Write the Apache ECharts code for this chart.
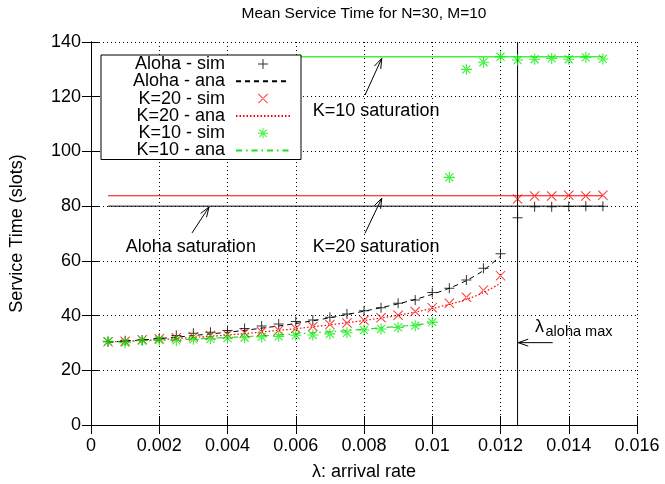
<!DOCTYPE html>
<html>
<head>
<meta charset="utf-8">
<script src="https://cdn.jsdelivr.net/npm/echarts@6/dist/echarts.min.js"></script>
<style>
  html, body { margin: 0; padding: 0; background: #fff; }
  #chart { width: 665px; height: 484px; }
</style>
</head>
<body>
<div id="chart"></div>
<script>
// arrival rates of the simulation runs
const simX = [0.0005, 0.001, 0.0015, 0.002, 0.0025, 0.003, 0.0035, 0.004, 0.0045, 0.005,
  0.0055, 0.006, 0.0065, 0.007, 0.0075, 0.008, 0.0085, 0.009, 0.0095, 0.01,
  0.0105, 0.011, 0.0115, 0.012, 0.0125, 0.013, 0.0135, 0.014, 0.0145, 0.015];
const alohaSim = [30.4, 30.8, 31.1, 31.7, 32.7, 33.5, 33.9, 34.5, 35.3, 36.2,
  36.9, 37.8, 38.4, 39.4, 40.6, 41.8, 42.9, 44.5, 45.7, 48.4,
  50.0, 53.0, 57.3, 62.6, 75.8, 79.8, 79.8, 79.9, 80.0, 80.0];
const k20Sim = [30.4, 30.6, 31.2, 31.5, 31.9, 32.3, 32.7, 33.1, 33.7, 34.1,
  34.6, 35.3, 36.0, 36.7, 37.3, 38.3, 39.2, 40.1, 41.5, 42.9,
  44.5, 46.7, 49.3, 54.6, 82.6, 83.7, 83.7, 84.0, 83.7, 84.0];
const k10Sim = [30.6, 30.1, 30.9, 31.1, 30.9, 31.3, 31.5, 31.8, 31.9, 32.2,
  32.4, 32.8, 32.9, 33.3, 33.7, 34.7, 35.1, 35.7, 36.3, 37.6,
  90.5, 130.0, 132.6, 134.6, 133.4, 133.7, 134.0, 133.7, 134.4, 133.8];

// analytical curves
const anaX = [0.0005, 0.001, 0.0015, 0.002, 0.0025, 0.003, 0.0035, 0.004, 0.0045, 0.005,
  0.0055, 0.006, 0.0065, 0.007, 0.0075, 0.008, 0.0085, 0.009, 0.0095, 0.01,
  0.0105, 0.011, 0.0115, 0.012];
const alohaAna = [30.3, 30.7, 31.1, 31.6, 32.1, 32.7, 33.3, 33.9, 34.6, 35.4,
  36.2, 37.1, 38.1, 39.2, 40.4, 41.6, 42.9, 44.3, 45.9, 47.8,
  50.0, 52.8, 56.5, 61.8];
const k20Ana = [30.3, 30.6, 30.9, 31.2, 31.6, 32.0, 32.4, 32.9, 33.4, 34.0,
  34.6, 35.2, 35.9, 36.6, 37.4, 38.2, 39.1, 40.1, 41.3, 42.6,
  44.1, 45.9, 48.4, 51.8];
const k10AnaX = [0.0005, 0.001, 0.0015, 0.002, 0.0025, 0.003, 0.0035, 0.004, 0.0045, 0.005,
  0.0055, 0.006, 0.0065, 0.007, 0.0075, 0.008, 0.0085, 0.009, 0.0095, 0.01];
const k10Ana = [30.2, 30.5, 30.7, 30.9, 31.2, 31.4, 31.7, 32.0, 32.3, 32.6,
  32.9, 33.3, 33.7, 34.1, 34.5, 35.0, 35.5, 36.0, 36.6, 37.3];

// saturation levels and aloha max rate
const satX = [0.0005, 0.015];
const alohaSat = 80;
const k20Sat = 83.8;
const k10Sat = 134.6;
const lambdaMax = 0.0125;

// annotations (data coordinates)
const notes = [
  { text: 'K=10 saturation', x: 0.0065, y: 114.8 },
  { text: 'Aloha saturation', x: 0.00102, y: 65.1 },
  { text: 'K=20 saturation', x: 0.0065, y: 64.9 }
];
const arrows = [
  [[0.00803, 120.6], [0.00852, 134.0]],
  [[0.00803, 70.1], [0.00852, 82.9]],
  [[0.00296, 70.2], [0.00346, 79.7]],
  [[0.01353, 30.1], [0.01252, 30.1]]
];

const FONT = 'Liberation Sans';
const PLUS = 'path://M0,4.5H10V5.5H0Z M4.5,0H5.5V10H4.5Z';
const CROSS = 'path://M0,0.7L0.7,0L10,9.3L9.3,10Z M10,0.7L9.3,0L0,9.3L0.7,10Z';
const STAR = 'path://M0,4.5H10V5.5H0Z M4.5,0H5.5V10H4.5Z M1,1.7L1.7,1L9,8.3L8.3,9Z M9,1.7L8.3,1L1,8.3L1.7,9Z';

const zip = (xs, ys) => xs.map((x, i) => [x, ys[i]]);
const flat = v => satX.map(x => [x, v]);

const chart = echarts.init(document.getElementById('chart'));

const axisCommon = {
  axisLine: { show: true, lineStyle: { color: '#000', width: 1 } },
  axisTick: { show: true, inside: true, length: 9, lineStyle: { color: '#000' } },
  axisLabel: { color: '#000', fontSize: 18, fontFamily: FONT },
  nameTextStyle: { color: '#000', fontSize: 18, fontFamily: FONT }
};

const option = {
  animation: false,
  backgroundColor: '#fff',
  title: {
    text: 'Mean Service Time for N=30, M=10',
    left: 364,
    textAlign: 'center',
    top: 6,
    padding: 0,
    textStyle: { fontSize: 15.5, fontWeight: 'normal', color: '#000', fontFamily: FONT }
  },
  grid: { left: 91, top: 42, right: 28, bottom: 59, outerBoundsMode: 'none' },
  legend: {
    orient: 'vertical',
    left: 101,
    top: 55,
    align: 'right',
    padding: [0, 10, 0, 0],
    itemGap: -0.7,
    itemWidth: 54,
    itemHeight: 10,
    backgroundColor: '#fff',
    borderColor: '#000',
    borderWidth: 1,
    borderRadius: 0,
    selectedMode: false,
    textStyle: {
      fontSize: 18, fontFamily: FONT, color: '#000',
      width: 124, align: 'right', lineHeight: 17.5, padding: [0, 6, 0, 0]
    },
    data: [
      'Aloha - sim',
      { name: 'Aloha - ana', itemStyle: { opacity: 0 } },
      'K=20 - sim',
      { name: 'K=20 - ana', itemStyle: { opacity: 0 } },
      'K=10 - sim',
      { name: 'K=10 - ana', itemStyle: { opacity: 0 } }
    ]
  },
  xAxis: [
    Object.assign({}, axisCommon, {
      type: 'value', min: 0, max: 0.016, interval: 0.002,
      name: 'λ: arrival rate', nameLocation: 'middle', nameGap: 38,
      axisLabel: Object.assign({}, axisCommon.axisLabel, {
        margin: 12,
        formatter: v => String(+v.toFixed(4))
      }),
      splitLine: { show: true, lineStyle: { color: '#000', type: [1, 3], width: 1 } }
    }),
    Object.assign({}, axisCommon, {
      type: 'value', min: 0, max: 0.016, interval: 0.002, position: 'top',
      axisLabel: { show: false }, splitLine: { show: false }
    })
  ],
  yAxis: [
    Object.assign({}, axisCommon, {
      type: 'value', min: 0, max: 140, interval: 20,
      name: 'Service Time (slots)', nameLocation: 'middle', nameGap: 65,
      axisLabel: Object.assign({}, axisCommon.axisLabel, { margin: 10 }),
      splitLine: { show: true, lineStyle: { color: '#000', type: [1, 3], width: 1 } }
    }),
    Object.assign({}, axisCommon, {
      type: 'value', min: 0, max: 140, interval: 20, position: 'right',
      axisLabel: { show: false }, splitLine: { show: false }
    })
  ],
  series: [
    {
      name: 'aloha-sat', type: 'line', data: flat(alohaSat), symbol: 'none',
      lineStyle: { color: '#000', width: 1 }, silent: true, z: 2
    },
    {
      name: 'k20-sat', type: 'line', data: flat(k20Sat), symbol: 'none',
      lineStyle: { color: '#ff0000', width: 1.2 }, silent: true, z: 2
    },
    {
      name: 'k10-sat', type: 'line', data: flat(k10Sat), symbol: 'none',
      lineStyle: { color: '#44ee44', width: 1.5 }, silent: true, z: 2
    },
    {
      name: 'aloha-max', type: 'line', data: [[lambdaMax, 0], [lambdaMax, 140]], symbol: 'none',
      lineStyle: { color: '#000', width: 1 }, silent: true, z: 2,
      markPoint: {
        silent: true,
        symbol: 'circle',
        symbolSize: 0,
        label: {
          show: true, position: 'right', distance: 0,
          color: '#000', fontSize: 18, fontFamily: FONT, formatter: '{b}'
        },
        data: notes.map(n => ({ name: n.text, coord: [n.x, n.y] })).concat([
          { name: 'λ', coord: [0.01301, 35.9] },
          { name: 'aloha max', coord: [0.01332, 34.1], label: { fontSize: 14.5 } }
        ])
      }
    },
    {
      name: 'Aloha - ana', type: 'line', data: zip(anaX, alohaAna), symbol: 'none',
      smooth: 0.3, itemStyle: { color: '#000' },
      lineStyle: { color: '#000', width: 1, type: [5, 4] }, z: 3
    },
    {
      name: 'K=20 - ana', type: 'line', data: zip(anaX, k20Ana), symbol: 'none',
      smooth: 0.3, itemStyle: { color: '#ff0000' },
      lineStyle: { color: '#ff0000', width: 1.2, type: [1.5, 2] }, z: 3
    },
    {
      name: 'K=10 - ana', type: 'line', data: zip(k10AnaX, k10Ana), symbol: 'none',
      smooth: 0.3, itemStyle: { color: '#22dd22' },
      lineStyle: { color: '#22dd22', width: 1.2, type: [6, 4, 1.5, 4] }, z: 3
    },
    {
      name: 'Aloha - sim', type: 'scatter', data: zip(simX, alohaSim),
      symbol: PLUS, symbolSize: 10, itemStyle: { color: '#000' }, z: 4
    },
    {
      name: 'K=20 - sim', type: 'scatter', data: zip(simX, k20Sim),
      symbol: CROSS, symbolSize: 10, itemStyle: { color: '#ff0000' }, z: 4
    },
    {
      name: 'K=10 - sim', type: 'scatter', data: zip(simX, k10Sim),
      symbol: STAR, symbolSize: 11, itemStyle: { color: '#00ee00' }, z: 4
    }
  ]
};

chart.setOption(option);

// arrows: shaft plus open head, placed from data coordinates
const toPx = c => chart.convertToPixel({ xAxisIndex: 0, yAxisIndex: 0 }, c);
const arrowGraphics = [];
arrows.forEach(a => {
  const p1 = toPx(a[0]);
  const p2 = toPx(a[1]);
  const dx = p1[0] - p2[0], dy = p1[1] - p2[1];
  const len = Math.hypot(dx, dy);
  const ux = dx / len, uy = dy / len;
  const nx = -uy, ny = ux;
  const hl = 10, hw = 3.5;
  arrowGraphics.push({
    type: 'line', silent: true, z: 10,
    shape: { x1: p1[0], y1: p1[1], x2: p2[0], y2: p2[1] },
    style: { stroke: '#000', lineWidth: 1 }
  });
  arrowGraphics.push({
    type: 'polyline', silent: true, z: 10,
    shape: { points: [
      [p2[0] + ux * hl + nx * hw, p2[1] + uy * hl + ny * hw],
      [p2[0], p2[1]],
      [p2[0] + ux * hl - nx * hw, p2[1] + uy * hl - ny * hw]
    ] },
    style: { stroke: '#000', lineWidth: 1, fill: null }
  });
});
chart.setOption({ graphic: arrowGraphics });
</script>
</body>
</html>
